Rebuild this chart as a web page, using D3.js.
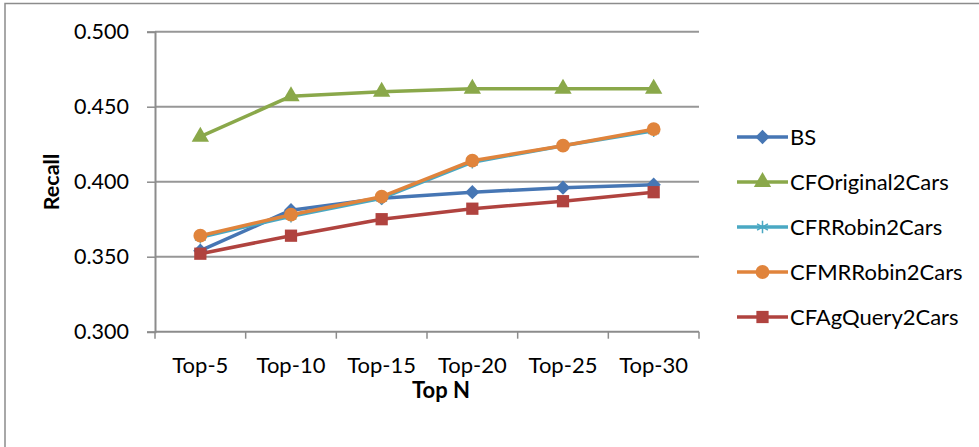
<!DOCTYPE html>
<html>
<head>
<meta charset="utf-8">
<script src="https://cdn.jsdelivr.net/npm/d3@7"></script>
<style>
  html, body { margin: 0; padding: 0; background: #fff; }
  svg { display: block; font-family: Lato, "Open Sans", sans-serif; }
</style>
</head>
<body>
<svg id="chart" width="979" height="447"></svg>
<script>
// Recall at each Top-N cut-off
const categories = ["Top-5", "Top-10", "Top-15", "Top-20", "Top-25", "Top-30"];
const seriesNames = ["BS", "CFOriginal2Cars", "CFRRobin2Cars", "CFMRRobin2Cars", "CFAgQuery2Cars"];
const bs             = [0.354, 0.381, 0.389, 0.393, 0.396, 0.398];
const cfOriginal2Cars = [0.430, 0.457, 0.460, 0.462, 0.462, 0.462];
const cfRRobin2Cars   = [0.363, 0.377, 0.389, 0.413, 0.424, 0.434];
const cfMRRobin2Cars  = [0.364, 0.378, 0.390, 0.414, 0.424, 0.435];
const cfAgQuery2Cars  = [0.352, 0.364, 0.375, 0.382, 0.387, 0.393];
const yTicks = [0.300, 0.350, 0.400, 0.450, 0.500];

const seriesValues = [bs, cfOriginal2Cars, cfRRobin2Cars, cfMRRobin2Cars, cfAgQuery2Cars];
const colors = ["#4676b4", "#8aa84a", "#4aa8c3", "#e0843c", "#b0433f"];
const symbols = [d3.symbolDiamond2, d3.symbolTriangle, d3.symbolAsterisk, d3.symbolCircle, d3.symbolSquare];
const symbolSizes = [130, 130, 110, 150, 150];

const svg = d3.select("#chart");

// chart area frame (only top and left edges fall inside the view)
svg.append("rect")
  .attr("x", 5).attr("y", 3.5).attr("width", 1000).attr("height", 500)
  .attr("fill", "none").attr("stroke", "#8c8c8c").attr("stroke-width", 1.5);

const plot = { left: 155, right: 699, top: 31.7, bottom: 331.7 };

const x = d3.scaleBand().domain(categories).range([plot.left, plot.right]);
const y = d3.scaleLinear().domain([0.3, 0.5]).range([plot.bottom, plot.top]);

// horizontal gridlines
svg.append("g")
  .selectAll("line")
  .data(yTicks.slice(1))
  .join("line")
  .attr("x1", plot.left).attr("x2", plot.right)
  .attr("y1", d => y(d)).attr("y2", d => y(d))
  .attr("stroke", "#979797").attr("stroke-width", 2);

// y axis
const yAxis = svg.append("g")
  .attr("transform", `translate(${plot.left},0)`)
  .call(d3.axisLeft(y).tickValues(yTicks).tickFormat(d3.format(".3f")).tickSize(8).tickPadding(18));
yAxis.select(".domain").attr("stroke", "#8c8c8c").attr("stroke-width", 2);
yAxis.selectAll(".tick line").attr("stroke", "#8c8c8c").attr("stroke-width", 1.5);
yAxis.selectAll(".tick text").attr("font-size", 21.5).attr("fill", "#000")
  .attr("font-family", "Lato, sans-serif");

// x axis with ticks at category boundaries
const xAxisG = svg.append("g").attr("transform", `translate(0,${plot.bottom})`);
xAxisG.append("line")
  .attr("x1", plot.left).attr("x2", plot.right)
  .attr("stroke", "#8c8c8c").attr("stroke-width", 2);
const boundaries = categories.map(c => x(c)).concat([x(categories[categories.length - 1]) + x.bandwidth()]);
xAxisG.selectAll("line.tick")
  .data(boundaries)
  .join("line").attr("class", "tick")
  .attr("x1", d => d).attr("x2", d => d)
  .attr("y1", 0).attr("y2", 7)
  .attr("stroke", "#8c8c8c").attr("stroke-width", 1.5);
xAxisG.selectAll("text")
  .data(categories)
  .join("text")
  .attr("x", d => x(d) + x.bandwidth() / 2)
  .attr("y", 41)
  .attr("text-anchor", "middle")
  .attr("font-size", 22)
  .attr("fill", "#000")
  .text(d => d);

// axis titles
svg.append("text")
  .attr("x", 441).attr("y", 398)
  .attr("text-anchor", "middle").attr("font-size", 22).attr("font-weight", "bold")
  .text("Top N");
svg.append("text")
  .attr("transform", "translate(59,182) rotate(-90)")
  .attr("text-anchor", "middle").attr("font-size", 21.5).attr("font-weight", "bold")
  .text("Recall");

// series lines and markers
const line = d3.line()
  .x((d, i) => x(categories[i]) + x.bandwidth() / 2)
  .y(d => y(d));

seriesValues.forEach((vals, s) => {
  const g = svg.append("g");
  g.append("path")
    .attr("d", line(vals))
    .attr("fill", "none")
    .attr("stroke", colors[s])
    .attr("stroke-width", 3.5)
    .attr("stroke-linejoin", "round");
  const isStroke = symbols[s] === d3.symbolAsterisk;
  g.selectAll("path.marker")
    .data(vals)
    .join("path").attr("class", "marker")
    .attr("transform", (d, i) => `translate(${x(categories[i]) + x.bandwidth() / 2},${y(d)})`)
    .attr("d", d3.symbol(symbols[s], symbolSizes[s]))
    .attr("fill", isStroke ? "none" : colors[s])
    .attr("stroke", colors[s])
    .attr("stroke-width", isStroke ? 1.5 : 0);
});

// legend
const legend = svg.append("g");
seriesNames.forEach((name, s) => {
  const ly = 137 + s * 45;
  const g = legend.append("g").attr("transform", `translate(737,${ly})`);
  g.append("line")
    .attr("x1", 0).attr("x2", 51)
    .attr("stroke", colors[s]).attr("stroke-width", 3.5);
  const isStroke = symbols[s] === d3.symbolAsterisk;
  g.append("path")
    .attr("transform", "translate(25.5,0)")
    .attr("d", d3.symbol(symbols[s], symbolSizes[s]))
    .attr("fill", isStroke ? "none" : colors[s])
    .attr("stroke", colors[s])
    .attr("stroke-width", isStroke ? 1.5 : 0);
  g.append("text")
    .attr("x", 53).attr("y", 7.5)
    .attr("font-size", 22).attr("fill", "#000")
    .text(name);
});
</script>
</body>
</html>
